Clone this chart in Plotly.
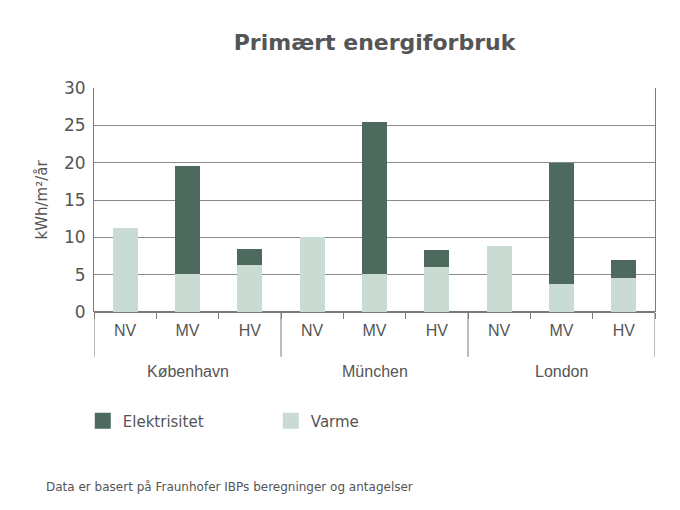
import plotly.graph_objects as go

cities = ["København", "München", "London"]
levels = ["NV", "MV", "HV"]

# stacked values, kWh/m²/år
varme = [11.2, 5.1, 6.3, 10.1, 5.1, 6.0, 8.9, 3.8, 4.6]
elektrisitet = [0, 14.5, 2.2, 0, 20.3, 2.3, 0, 16.1, 2.3]

x_keys = [f"{c} {lv}" for c in cities for lv in levels]
x_text = levels * len(cities)

dark = "#4e695e"
light = "#c9dbd3"
grey = "#555555"
line_grey = "#7a7a7a"
geo = "DejaVu Sans, sans-serif"

fig = go.Figure()
fig.add_trace(go.Bar(
    x=x_keys, y=varme, name="Varme",
    marker=dict(color=light, line=dict(width=0)),
    showlegend=False,
))
fig.add_trace(go.Bar(
    x=x_keys, y=elektrisitet, name="Elektrisitet",
    marker=dict(color=dark, line=dict(width=0)),
    showlegend=False,
))

# legend swatches (bigger squares than the default bar symbol)
for name, col in [("Elektrisitet", dark), ("Varme", light)]:
    fig.add_trace(go.Scatter(
        x=[None], y=[None], mode="markers", name=name,
        marker=dict(symbol="square", size=18, color=col),
    ))

# group dividers and city labels under the axis
for b in [-0.5, 2.5, 5.5, 8.5]:
    fig.add_shape(type="line", xref="x", yref="paper",
                  x0=b, x1=b, y0=0, y1=-0.2,
                  line=dict(color=line_grey, width=1))
for i, c in enumerate(cities):
    fig.add_annotation(text=c, xref="x", yref="paper",
                       x=i * 3 + 1, y=-0.265, yanchor="middle",
                       showarrow=False,
                       font=dict(family="Liberation Sans, Arial", size=16, color=grey))

fig.add_annotation(
    text="Data er basert på Fraunhofer IBPs beregninger og antagelser",
    xref="paper", yref="paper",
    x=-0.089, y=-0.78, xanchor="left", yanchor="middle",
    showarrow=False,
    font=dict(family=geo, size=12, color=grey),
)

fig.update_layout(
    barmode="stack",
    bargap=0.6,
    width=680,
    height=510,
    paper_bgcolor="white",
    plot_bgcolor="white",
    font=dict(family=geo, color=grey),
    title=dict(
        text="<b>Primært energiforbruk</b>",
        xref="paper", x=0.5, xanchor="center",
        y=0.933, yanchor="middle",
        font=dict(family=geo, size=22, color=grey),
    ),
    xaxis=dict(
        type="category",
        tickvals=x_keys,
        ticktext=x_text,
        tickson="boundaries",
        ticks="outside",
        ticklen=6,
        tickcolor=line_grey,
        ticklabelstandoff=7,
        tickfont=dict(family="Liberation Sans, Arial", size=16, color=grey),
        showgrid=False,
        showline=False,
        range=[-0.5, 8.5],
        automargin=False,
    ),
    yaxis=dict(
        range=[0, 30],
        dtick=5,
        showgrid=True,
        gridcolor="#8a8a8a",
        showline=True,
        linecolor=line_grey,
        mirror=True,
        zeroline=True,
        zerolinecolor=line_grey,
        ticks="",
        ticklabelstandoff=4,
        tickfont=dict(family=geo, size=17, color=grey),
        title=dict(text="kWh/m²/år", font=dict(family=geo, size=15, color=grey), standoff=12),
        automargin=False,
    ),
    legend=dict(
        orientation="h",
        traceorder="normal",
        itemsizing="trace",
        x=-0.02, xanchor="left",
        y=-0.487, yanchor="middle",
        font=dict(family=geo, size=15, color=grey),
        entrywidth=143,
        entrywidthmode="pixels",
    ),
    margin=dict(l=86, r=33, t=80, b=206),
)

fig.write_html("out.html")
